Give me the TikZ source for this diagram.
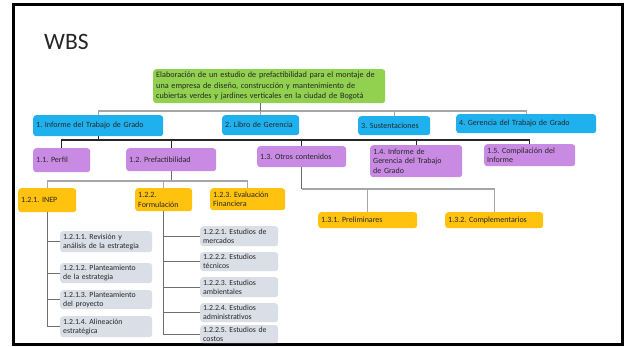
\documentclass[tikz,border=0pt]{standalone}
\usepackage{fontspec}
\setmainfont{Carlito}
\frenchspacing
\definecolor{cgreen}{HTML}{92D050}
\definecolor{cblue}{HTML}{1FB1EE}
\definecolor{cpurple}{HTML}{C98AE3}
\definecolor{corange}{HTML}{FFC20E}
\definecolor{cgrey}{HTML}{DADEE6}
\definecolor{ctext}{HTML}{262626}
\definecolor{lgrey}{HTML}{A6A6A6}
\definecolor{mgrey}{HTML}{6E6E6E}
\begin{document}
\begin{tikzpicture}[x=1pt,y=-1pt,
  bx/.style={rounded corners=3pt, anchor=north west, inner xsep=3pt, inner ysep=0pt,
     align=left, text=ctext, font=\fontsize{8}{9.5}\selectfont},
  gbox/.style={bx, fill=cgreen},
  bbox/.style={bx, fill=cblue},
  pbox/.style={bx, fill=cpurple},
  obox/.style={bx, fill=corange},
  sbox/.style={bx, fill=cgrey, font=\fontsize{7.8}{8.8}\selectfont},
  lline/.style={draw=lgrey, line width=1.1pt},
  dline/.style={draw=black!85, line width=1.4pt},
  mline/.style={draw=mgrey, line width=1pt},
]
\useasboundingbox (0,0) rectangle (629,347);
\fill[white] (0,0) rectangle (629,347);
\draw[line width=3pt, black] (13,5) rectangle (622,344);
\node[anchor=west, inner sep=0pt, font=\fontsize{23.5}{26}\selectfont, text=black!85] (title) at (44,42) {WBS};

% root
\node[gbox, text width=226pt, minimum height=34pt, font=\fontsize{8.2}{10.5}\selectfont] (root) at (153,69)
 {Elaboración de un estudio de prefactibilidad para el montaje de\\una empresa de diseño, construcción y mantenimiento de\\cubiertas verdes y jardines verticales en la ciudad de Bogotá};

% level 1
\node[bbox, text width=124pt, minimum height=21pt] (l1a) at (33,115) {1. Informe del Trabajo de Grado};
\node[bbox, text width=71pt, minimum height=20pt] (l1b) at (222,115) {2. Libro de Gerencia};
\node[bbox, text width=66pt, minimum height=19pt] (l1c) at (358,116) {3. Sustentaciones};
\node[bbox, text width=134pt, minimum height=19pt] (l1d) at (456,114) {4. Gerencia del Trabajo de Grado};

% level 2
\node[pbox, text width=51pt, minimum height=24pt] (p11) at (33,148) {1.1. Perfil};
\node[pbox, text width=84pt, minimum height=23pt] (p12) at (126,148) {1.2. Prefactibilidad};
\node[pbox, text width=83pt, minimum height=21pt] (p13) at (257,146) {1.3. Otros contenidos};
\node[pbox, text width=86pt, minimum height=32pt, font=\fontsize{8}{9.8}\selectfont] (p14) at (370,145) {1.4. Informe de\\Gerencia del Trabajo\\de Grado};
\node[pbox, text width=85pt, minimum height=22pt] (p15) at (484,144) {1.5. Compilación del\\Informe};

% level 3
\node[obox, text width=52pt, minimum height=24pt] (o121) at (18,188) {1.2.1. INEP};
\node[obox, text width=51pt, minimum height=23pt, font=\fontsize{8}{10.5}\selectfont] (o122) at (135,188) {1.2.2.\\Formulación};
\node[obox, text width=69pt, minimum height=22pt] (o123) at (210,188) {1.2.3. Evaluación\\Financiera};
\node[obox, text width=93pt, minimum height=16pt] (o131) at (318,212) {1.3.1. Preliminares};
\node[obox, text width=92pt, minimum height=16pt] (o132) at (445,212) {1.3.2. Complementarios};

% level 4 (INEP)
\node[sbox, text width=86pt, minimum height=21pt] (g1) at (60,231) {1.2.1.1. Revisión y\\análisis de la estrategia};
\node[sbox, text width=86pt, minimum height=20pt] (g2) at (60,263) {1.2.1.2. Planteamiento\\de la estrategia};
\node[sbox, text width=86pt, minimum height=19pt] (g3) at (60,290) {1.2.1.3. Planteamiento\\del proyecto};
\node[sbox, text width=86pt, minimum height=21pt] (g4) at (60,316) {1.2.1.4. Alineación\\estratégica};

% level 4 (Formulacion)
\node[sbox, text width=72pt, minimum height=20pt] (f1) at (200,226) {1.2.2.1. Estudios de\\mercados};
\node[sbox, text width=72pt, minimum height=19pt] (f2) at (200,252) {1.2.2.2. Estudios\\técnicos};
\node[sbox, text width=72pt, minimum height=20pt] (f3) at (200,277) {1.2.2.3. Estudios\\ambientales};
\node[sbox, text width=72pt, minimum height=19pt] (f4) at (200,303) {1.2.2.4. Estudios\\administrativos};
\node[sbox, text width=72pt, minimum height=18pt] (f5) at (200,325) {1.2.2.5. Estudios de\\costos};

% bus coordinates
\coordinate (busA) at (0,111);
\coordinate (busB) at (0,140);
\coordinate (busC) at (0,181);
\coordinate (busD) at (0,189);

% root -> level 1
\draw[lline] (l1a.north) -- (l1a.north |- busA) -- (l1d.north |- busA) -- (l1d.north);
\draw[lline] (l1c.north) -- (l1c.north |- busA);
\draw[lline] (l1b.north) -- (l1b.north |- busA);
\draw[mline] (root.south -| l1b.north) -- (l1b.north |- busA);

% level 1 -> level 2
\draw[dline] (l1a.south) -- (l1a.south |- busB);
\draw[dline] (p11.north) -- (p11.north |- busB) -- (p15.north |- busB) -- (p15.north);
\draw[dline] (p12.north) -- (p12.north |- busB);
\draw[dline] (p13.north) -- (p13.north |- busB);
\draw[dline] (p14.north) -- (p14.north |- busB);

% 1.2 -> level 3
\draw[mline] (p12.south) -- (p12.south |- busC);
\draw[lline] (o121.north) -- (o121.north |- busC) -- (o123.north |- busC) -- (o123.north);
\draw[lline] (o122.north) -- (o122.north |- busC);

% 1.3 -> level 3
\draw[mline] (p13.south) -- (p13.south |- busD);
\draw[lline] (p13.south |- busD) -- (o132.north |- busD) -- (o132.north);
\draw[lline] (o131.north) -- (o131.north |- busD);

% INEP -> level 4
\draw[mline] (o121.south) -- (o121.south |- g4.west) -- (g4.west);
\draw[mline] (g1.west) -- (g1.west -| o121.south);
\draw[mline] (g2.west) -- (g2.west -| o121.south);
\draw[mline] (g3.west) -- (g3.west -| o121.south);

% Formulacion -> level 4
\draw[mline] (o122.south) -- (o122.south |- f5.west) -- (f5.west);
\draw[mline] (f1.west) -- (f1.west -| o122.south);
\draw[mline] (f2.west) -- (f2.west -| o122.south);
\draw[mline] (f3.west) -- (f3.west -| o122.south);
\draw[mline] (f4.west) -- (f4.west -| o122.south);
\end{tikzpicture}
\end{document}
